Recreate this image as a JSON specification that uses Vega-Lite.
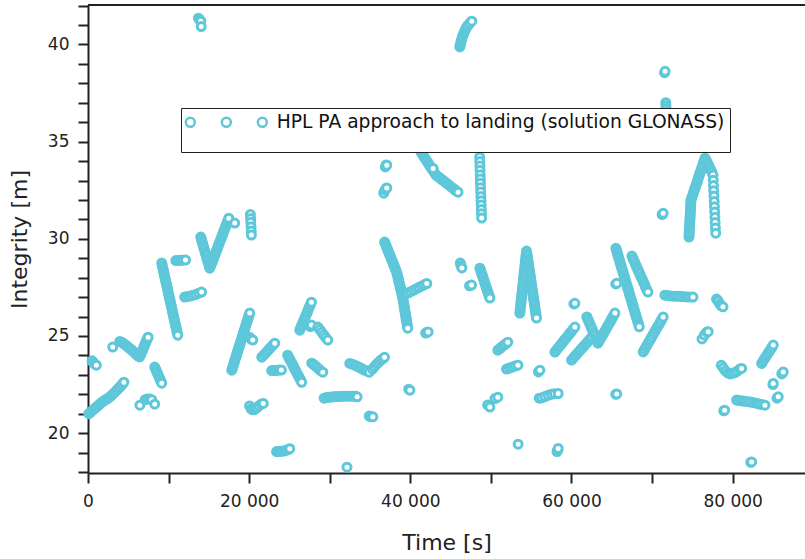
{
"$schema":"https://vega.github.io/schema/vega-lite/v6.json",
"width":717,"height":468,
"autosize":{"type":"none"},
"padding":{"left":88,"top":5,"right":0,"bottom":86},
"config":{"view":{"stroke":null},
"axis":{"grid":false,"domainColor":"#222","domainWidth":2,"tickColor":"#222","tickWidth":2,"labelFont":"DejaVu Sans","labelFontSize":17,"labelColor":"#222","titleFont":"DejaVu Sans","titleFontSize":22,"titleFontWeight":"normal","titleColor":"#222","labelOverlap":false,"labelFlush":false,"labelBound":false}},
"resolve":{"axis":{"x":"independent","y":"independent"}},
"layer":[
{"data":{"values":[{"t":0,"t2":88980,"v":42.03}]},
"mark":{"type":"rule","color":"#222","strokeWidth":2},
"encoding":{"x":{"field":"t","type":"quantitative","axis":null},"x2":{"field":"t2"},"y":{"field":"v","type":"quantitative","axis":null}}},
{"data":{"values":[
{"t":100,"v":21.0},{"t":330,"v":21.08},{"t":560,"v":21.17},{"t":790,"v":21.25},{"t":1020,"v":21.33},{"t":1250,"v":21.41},{"t":1480,"v":21.5},{"t":1710,"v":21.58},{"t":1940,"v":21.66},{"t":2170,"v":21.72},{"t":2400,"v":21.76},{"t":2630,"v":21.84},{"t":2860,"v":21.92},{"t":3090,"v":22.01},{"t":3320,"v":22.1},{"t":3550,"v":22.2},{"t":3780,"v":22.3},{"t":4010,"v":22.4},{"t":4240,"v":22.51},{"t":4450,"v":22.62},
{"t":500,"v":23.72},{"t":650,"v":23.64},{"t":800,"v":23.57},{"t":1040,"v":23.5},
{"t":3070,"v":24.43},
{"t":3940,"v":24.72},{"t":4160,"v":24.68},{"t":4380,"v":24.62},{"t":4600,"v":24.55},{"t":4830,"v":24.48},{"t":5050,"v":24.4},{"t":5280,"v":24.33},{"t":5500,"v":24.25},{"t":5730,"v":24.16},{"t":5950,"v":24.07},{"t":6180,"v":23.98},{"t":6400,"v":23.92},
{"t":6520,"v":24.02},{"t":6630,"v":24.13},{"t":6740,"v":24.24},{"t":6850,"v":24.35},{"t":6960,"v":24.46},{"t":7070,"v":24.57},{"t":7180,"v":24.68},{"t":7300,"v":24.79},{"t":7400,"v":24.88},{"t":7460,"v":24.94},
{"t":8280,"v":23.4},{"t":8400,"v":23.29},{"t":8530,"v":23.17},{"t":8650,"v":23.05},{"t":8770,"v":22.93},{"t":8900,"v":22.81},{"t":9030,"v":22.69},{"t":9150,"v":22.57},
{"t":6440,"v":21.44},{"t":7100,"v":21.72},{"t":7350,"v":21.76},{"t":7650,"v":21.76},{"t":7900,"v":21.72},{"t":8280,"v":21.49},
{"t":9150,"v":28.75},{"t":9220,"v":28.62},{"t":9290,"v":28.49},{"t":9360,"v":28.37},{"t":9420,"v":28.24},{"t":9490,"v":28.11},{"t":9560,"v":27.98},{"t":9630,"v":27.85},{"t":9700,"v":27.72},{"t":9770,"v":27.6},{"t":9840,"v":27.47},{"t":9910,"v":27.34},{"t":9970,"v":27.21},{"t":10040,"v":27.08},{"t":10110,"v":26.95},{"t":10180,"v":26.83},{"t":10250,"v":26.7},{"t":10320,"v":26.57},{"t":10390,"v":26.44},{"t":10460,"v":26.31},{"t":10520,"v":26.18},{"t":10590,"v":26.06},{"t":10660,"v":25.93},{"t":10730,"v":25.8},{"t":10800,"v":25.67},{"t":10870,"v":25.54},{"t":10940,"v":25.42},{"t":11010,"v":25.29},{"t":11070,"v":25.16},{"t":11140,"v":25.04},
{"t":10900,"v":28.88},{"t":11200,"v":28.89},{"t":11500,"v":28.9},{"t":11800,"v":28.9},{"t":12100,"v":28.91},
{"t":12000,"v":27.0},{"t":12350,"v":27.03},{"t":12700,"v":27.06},{"t":13050,"v":27.1},{"t":13400,"v":27.14},{"t":13750,"v":27.2},{"t":14100,"v":27.26},
{"t":13700,"v":41.35},{"t":13800,"v":41.3},{"t":13900,"v":41.25},{"t":14000,"v":41.2},{"t":14050,"v":40.92},
{"t":13990,"v":30.09},{"t":14080,"v":29.97},{"t":14160,"v":29.84},{"t":14250,"v":29.72},{"t":14330,"v":29.6},{"t":14420,"v":29.48},{"t":14510,"v":29.35},{"t":14590,"v":29.23},{"t":14680,"v":29.11},{"t":14760,"v":28.98},{"t":14850,"v":28.86},{"t":14940,"v":28.74},{"t":15020,"v":28.61},{"t":15110,"v":28.49},
{"t":15210,"v":28.6},{"t":15310,"v":28.71},{"t":15420,"v":28.82},{"t":15520,"v":28.93},{"t":15620,"v":29.05},{"t":15730,"v":29.16},{"t":15830,"v":29.27},{"t":15930,"v":29.38},{"t":16040,"v":29.5},{"t":16140,"v":29.61},{"t":16240,"v":29.72},{"t":16350,"v":29.83},{"t":16450,"v":29.94},{"t":16550,"v":30.06},{"t":16660,"v":30.17},{"t":16760,"v":30.28},{"t":16860,"v":30.39},{"t":16970,"v":30.5},{"t":17070,"v":30.62},{"t":17170,"v":30.73},{"t":17280,"v":30.84},{"t":17380,"v":30.95},{"t":17470,"v":31.06},
{"t":18210,"v":30.81},
{"t":20150,"v":31.25},{"t":20180,"v":31.05},{"t":20200,"v":30.85},{"t":20230,"v":30.62},{"t":20260,"v":30.4},{"t":20280,"v":30.19},
{"t":17840,"v":23.24},{"t":17930,"v":23.35},{"t":18010,"v":23.46},{"t":18100,"v":23.58},{"t":18180,"v":23.69},{"t":18270,"v":23.81},{"t":18360,"v":23.92},{"t":18440,"v":24.03},{"t":18530,"v":24.15},{"t":18610,"v":24.26},{"t":18700,"v":24.37},{"t":18790,"v":24.49},{"t":18870,"v":24.6},{"t":18960,"v":24.71},{"t":19040,"v":24.83},{"t":19130,"v":24.94},{"t":19220,"v":25.05},{"t":19300,"v":25.17},{"t":19390,"v":25.28},{"t":19470,"v":25.39},{"t":19560,"v":25.51},{"t":19640,"v":25.62},{"t":19730,"v":25.73},{"t":19820,"v":25.85},{"t":19900,"v":25.96},{"t":19990,"v":26.07},{"t":20070,"v":26.18},
{"t":20100,"v":24.92},{"t":20250,"v":24.84},{"t":20450,"v":24.79},
{"t":20050,"v":21.4},{"t":20250,"v":21.25},{"t":20450,"v":21.2},{"t":20700,"v":21.22},{"t":20950,"v":21.3},{"t":21200,"v":21.4},{"t":21500,"v":21.5},{"t":21750,"v":21.53},
{"t":21570,"v":23.91},{"t":21800,"v":24.01},{"t":22030,"v":24.12},{"t":22260,"v":24.22},{"t":22490,"v":24.32},{"t":22720,"v":24.43},{"t":22950,"v":24.53},{"t":23180,"v":24.63},
{"t":22800,"v":23.22},{"t":23100,"v":23.22},{"t":23400,"v":23.23},{"t":23700,"v":23.25},{"t":24000,"v":23.25},
{"t":24780,"v":24.01},{"t":24930,"v":23.89},{"t":25070,"v":23.78},{"t":25220,"v":23.66},{"t":25360,"v":23.55},{"t":25510,"v":23.43},{"t":25650,"v":23.31},{"t":25800,"v":23.2},{"t":25940,"v":23.08},{"t":26090,"v":22.97},{"t":26230,"v":22.85},{"t":26380,"v":22.74},{"t":26520,"v":22.62},
{"t":23400,"v":19.05},{"t":23700,"v":19.05},{"t":24000,"v":19.07},{"t":24300,"v":19.08},{"t":24600,"v":19.12},{"t":24900,"v":19.17},{"t":25040,"v":19.2},
{"t":26280,"v":25.3},{"t":26410,"v":25.43},{"t":26540,"v":25.56},{"t":26670,"v":25.69},{"t":26800,"v":25.82},{"t":26930,"v":25.95},{"t":27070,"v":26.08},{"t":27200,"v":26.21},{"t":27330,"v":26.35},{"t":27460,"v":26.48},{"t":27600,"v":26.61},{"t":27730,"v":26.74},
{"t":27600,"v":25.48},{"t":27730,"v":25.56},
{"t":27770,"v":23.6},{"t":28050,"v":23.52},{"t":28320,"v":23.42},{"t":28600,"v":23.32},{"t":28870,"v":23.22},{"t":29140,"v":23.14},
{"t":28520,"v":25.46},{"t":28770,"v":25.33},{"t":29010,"v":25.19},{"t":29260,"v":25.05},{"t":29510,"v":24.92},{"t":29760,"v":24.79},
{"t":29300,"v":21.8},{"t":29600,"v":21.83},{"t":29900,"v":21.85},{"t":30200,"v":21.86},{"t":30500,"v":21.87},{"t":30800,"v":21.88},{"t":31100,"v":21.88},{"t":31400,"v":21.89},{"t":31700,"v":21.9},{"t":32000,"v":21.9},{"t":32300,"v":21.9},{"t":32600,"v":21.9},{"t":32900,"v":21.9},{"t":33200,"v":21.9},{"t":33400,"v":21.87},
{"t":34900,"v":20.88},{"t":35100,"v":20.85},{"t":35350,"v":20.84},
{"t":32140,"v":18.25},
{"t":32490,"v":23.59},{"t":32800,"v":23.55},{"t":33100,"v":23.5},{"t":33400,"v":23.44},{"t":33700,"v":23.38},{"t":34000,"v":23.31},{"t":34300,"v":23.25},{"t":34600,"v":23.2},{"t":34900,"v":23.14},
{"t":35300,"v":23.3},{"t":35550,"v":23.42},{"t":35800,"v":23.54},{"t":36050,"v":23.64},{"t":36300,"v":23.74},{"t":36550,"v":23.82},{"t":36800,"v":23.9},
{"t":39800,"v":22.26},{"t":39950,"v":22.21},
{"t":36810,"v":29.83},{"t":36920,"v":29.72},{"t":37020,"v":29.61},{"t":37130,"v":29.5},{"t":37240,"v":29.39},{"t":37340,"v":29.28},{"t":37450,"v":29.17},{"t":37560,"v":29.06},{"t":37660,"v":28.95},{"t":37770,"v":28.84},{"t":37870,"v":28.73},{"t":37980,"v":28.62},{"t":38090,"v":28.51},{"t":38190,"v":28.4},{"t":38300,"v":28.29},
{"t":38360,"v":28.18},{"t":38430,"v":28.08},{"t":38490,"v":27.97},{"t":38550,"v":27.86},{"t":38610,"v":27.75},{"t":38680,"v":27.65},{"t":38740,"v":27.54},{"t":38800,"v":27.43},{"t":38860,"v":27.32},{"t":38930,"v":27.22},{"t":38990,"v":27.11},{"t":39050,"v":27.0},
{"t":39090,"v":26.89},{"t":39130,"v":26.79},{"t":39180,"v":26.68},{"t":39220,"v":26.57},{"t":39260,"v":26.47},{"t":39300,"v":26.36},{"t":39340,"v":26.25},{"t":39390,"v":26.15},{"t":39430,"v":26.04},{"t":39470,"v":25.93},{"t":39510,"v":25.83},{"t":39550,"v":25.72},{"t":39600,"v":25.61},{"t":39640,"v":25.51},{"t":39680,"v":25.4},
{"t":39700,"v":27.21},{"t":40030,"v":27.28},{"t":40370,"v":27.35},{"t":40700,"v":27.42},{"t":41030,"v":27.49},{"t":41370,"v":27.56},{"t":41700,"v":27.63},{"t":42040,"v":27.7},
{"t":41900,"v":25.15},{"t":42050,"v":25.18},{"t":42210,"v":25.21},
{"t":36900,"v":33.7},{"t":37000,"v":33.8},{"t":37080,"v":33.79},
{"t":36700,"v":32.35},{"t":36850,"v":32.5},{"t":37000,"v":32.6},{"t":37080,"v":32.62},
{"t":41320,"v":34.46},{"t":41480,"v":34.36},{"t":41630,"v":34.26},{"t":41790,"v":34.16},{"t":41940,"v":34.07},{"t":42100,"v":33.97},{"t":42260,"v":33.87},{"t":42410,"v":33.77},{"t":42570,"v":33.67},{"t":42720,"v":33.57},{"t":42880,"v":33.48},{"t":43030,"v":33.38},{"t":43190,"v":33.28},
{"t":43420,"v":33.21},{"t":43640,"v":33.14},{"t":43870,"v":33.06},{"t":44100,"v":32.99},{"t":44330,"v":32.92},{"t":44550,"v":32.84},{"t":44780,"v":32.77},{"t":45010,"v":32.69},{"t":45240,"v":32.62},{"t":45460,"v":32.55},{"t":45690,"v":32.47},{"t":45920,"v":32.4},
{"t":42830,"v":33.62},
{"t":46145,"v":39.87},{"t":46200,"v":39.98},{"t":46260,"v":40.09},{"t":46330,"v":40.2},{"t":46410,"v":40.31},{"t":46500,"v":40.43},{"t":46600,"v":40.54},{"t":46710,"v":40.65},{"t":46830,"v":40.76},{"t":46960,"v":40.87},{"t":47140,"v":40.98},{"t":47380,"v":41.09},{"t":47630,"v":41.2},
{"t":48600,"v":34.2},{"t":48620,"v":33.98},{"t":48640,"v":33.75},{"t":48650,"v":33.53},{"t":48670,"v":33.3},{"t":48690,"v":33.08},{"t":48700,"v":32.86},{"t":48720,"v":32.63},{"t":48740,"v":32.41},{"t":48760,"v":32.18},{"t":48770,"v":31.96},{"t":48790,"v":31.74},{"t":48810,"v":31.51},{"t":48830,"v":31.29},{"t":48850,"v":31.07},
{"t":46200,"v":28.75},{"t":46300,"v":28.62},{"t":46400,"v":28.5},
{"t":47350,"v":27.58},{"t":47600,"v":27.62},
{"t":48630,"v":28.49},{"t":48730,"v":28.37},{"t":48820,"v":28.25},{"t":48920,"v":28.14},{"t":49010,"v":28.02},{"t":49110,"v":27.9},{"t":49200,"v":27.78},{"t":49300,"v":27.66},{"t":49390,"v":27.54},{"t":49490,"v":27.42},{"t":49580,"v":27.3},{"t":49680,"v":27.19},{"t":49770,"v":27.07},{"t":49870,"v":26.95},
{"t":50860,"v":24.27},{"t":51110,"v":24.35},{"t":51350,"v":24.44},{"t":51600,"v":24.52},{"t":51850,"v":24.6},{"t":52100,"v":24.68},
{"t":51940,"v":23.3},{"t":52300,"v":23.35},{"t":52650,"v":23.4},{"t":53000,"v":23.45},{"t":53350,"v":23.5},
{"t":49600,"v":21.45},{"t":49870,"v":21.34},{"t":50500,"v":21.78},{"t":50860,"v":21.85},
{"t":53380,"v":19.43},
{"t":53590,"v":26.18},{"t":53620,"v":26.31},{"t":53660,"v":26.45},{"t":53690,"v":26.58},{"t":53730,"v":26.71},{"t":53760,"v":26.84},{"t":53800,"v":26.98},{"t":53830,"v":27.11},{"t":53870,"v":27.24},{"t":53900,"v":27.38},{"t":53940,"v":27.51},{"t":53970,"v":27.64},{"t":54010,"v":27.77},{"t":54040,"v":27.91},{"t":54070,"v":28.04},{"t":54110,"v":28.17},{"t":54140,"v":28.31},{"t":54180,"v":28.44},{"t":54210,"v":28.57},{"t":54250,"v":28.7},{"t":54280,"v":28.84},{"t":54320,"v":28.97},{"t":54350,"v":29.1},{"t":54390,"v":29.24},{"t":54420,"v":29.37},
{"t":54470,"v":29.24},{"t":54510,"v":29.11},{"t":54560,"v":28.98},{"t":54610,"v":28.85},{"t":54650,"v":28.72},{"t":54700,"v":28.6},{"t":54740,"v":28.47},{"t":54790,"v":28.34},{"t":54840,"v":28.21},{"t":54880,"v":28.08},{"t":54930,"v":27.96},{"t":54970,"v":27.83},{"t":55020,"v":27.7},{"t":55070,"v":27.57},{"t":55110,"v":27.44},{"t":55160,"v":27.32},{"t":55200,"v":27.19},{"t":55250,"v":27.06},{"t":55300,"v":26.93},{"t":55340,"v":26.8},{"t":55390,"v":26.68},{"t":55430,"v":26.55},{"t":55480,"v":26.42},{"t":55530,"v":26.29},{"t":55570,"v":26.16},{"t":55620,"v":26.04},{"t":55660,"v":25.92},
{"t":55900,"v":23.15},{"t":56080,"v":23.24},
{"t":56000,"v":21.8},{"t":56300,"v":21.82},{"t":56700,"v":21.88},{"t":57100,"v":21.95},{"t":57500,"v":22.0},{"t":57900,"v":22.03},{"t":58350,"v":22.04},
{"t":58200,"v":19.05},{"t":58300,"v":19.12},{"t":58350,"v":19.21},
{"t":57940,"v":24.17},{"t":58150,"v":24.28},{"t":58350,"v":24.39},{"t":58560,"v":24.49},{"t":58770,"v":24.6},{"t":58970,"v":24.71},{"t":59180,"v":24.82},{"t":59390,"v":24.92},{"t":59590,"v":25.03},{"t":59800,"v":25.14},{"t":60010,"v":25.24},{"t":60210,"v":25.35},{"t":60420,"v":25.46},
{"t":60300,"v":26.65},{"t":60420,"v":26.68},
{"t":60010,"v":23.76},{"t":60220,"v":23.86},{"t":60430,"v":23.96},{"t":60640,"v":24.06},{"t":60850,"v":24.16},{"t":61060,"v":24.26},{"t":61270,"v":24.35},{"t":61480,"v":24.45},{"t":61690,"v":24.55},{"t":61910,"v":24.65},{"t":62120,"v":24.75},{"t":62330,"v":24.85},{"t":62540,"v":24.94},
{"t":61910,"v":25.98},{"t":62050,"v":25.85},{"t":62180,"v":25.71},{"t":62320,"v":25.58},{"t":62460,"v":25.44},{"t":62590,"v":25.31},{"t":62730,"v":25.17},{"t":62870,"v":25.04},{"t":63010,"v":24.9},{"t":63140,"v":24.77},{"t":63280,"v":24.63},
{"t":63430,"v":24.74},{"t":63590,"v":24.85},{"t":63740,"v":24.96},{"t":63890,"v":25.07},{"t":64040,"v":25.18},{"t":64200,"v":25.29},{"t":64350,"v":25.4},{"t":64500,"v":25.51},{"t":64650,"v":25.62},{"t":64800,"v":25.73},{"t":64960,"v":25.85},{"t":65110,"v":25.96},{"t":65260,"v":26.07},{"t":65390,"v":26.18},
{"t":65510,"v":29.51},{"t":65600,"v":29.39},{"t":65690,"v":29.27},{"t":65770,"v":29.14},{"t":65860,"v":29.02},{"t":65950,"v":28.9},{"t":66040,"v":28.78},{"t":66130,"v":28.65},{"t":66210,"v":28.53},{"t":66300,"v":28.41},{"t":66390,"v":28.29},{"t":66480,"v":28.16},{"t":66570,"v":28.04},{"t":66650,"v":27.92},{"t":66740,"v":27.8},{"t":66830,"v":27.67},{"t":66920,"v":27.55},{"t":67010,"v":27.43},{"t":67090,"v":27.31},{"t":67180,"v":27.18},{"t":67270,"v":27.06},{"t":67360,"v":26.94},{"t":67450,"v":26.82},{"t":67530,"v":26.69},{"t":67620,"v":26.57},{"t":67710,"v":26.45},{"t":67800,"v":26.33},{"t":67890,"v":26.2},{"t":67970,"v":26.08},{"t":68060,"v":25.96},{"t":68150,"v":25.84},{"t":68240,"v":25.71},{"t":68330,"v":25.59},{"t":68410,"v":25.47},
{"t":67500,"v":29.11},{"t":67640,"v":28.98},{"t":67780,"v":28.85},{"t":67920,"v":28.71},{"t":68060,"v":28.58},{"t":68200,"v":28.45},{"t":68340,"v":28.32},{"t":68480,"v":28.19},{"t":68620,"v":28.05},{"t":68770,"v":27.92},{"t":68910,"v":27.79},{"t":69050,"v":27.66},{"t":69190,"v":27.52},{"t":69330,"v":27.39},{"t":69490,"v":27.26},
{"t":65500,"v":27.68},{"t":65620,"v":27.71},
{"t":65500,"v":22.0},{"t":65620,"v":22.02},
{"t":68900,"v":24.18},{"t":69080,"v":24.31},{"t":69250,"v":24.44},{"t":69430,"v":24.57},{"t":69610,"v":24.7},{"t":69790,"v":24.82},{"t":69960,"v":24.95},{"t":70140,"v":25.08},{"t":70320,"v":25.21},{"t":70500,"v":25.34},{"t":70670,"v":25.47},{"t":70850,"v":25.59},{"t":71030,"v":25.72},{"t":71200,"v":25.85},{"t":71380,"v":25.98},
{"t":71250,"v":31.25},{"t":71380,"v":31.31},
{"t":71550,"v":38.55},{"t":71620,"v":38.62},
{"t":71700,"v":37.0},{"t":71720,"v":36.85},{"t":71740,"v":36.7},{"t":71760,"v":36.55},
{"t":71590,"v":27.1},{"t":71940,"v":27.08},{"t":72290,"v":27.06},{"t":72640,"v":27.05},{"t":72990,"v":27.05},{"t":73340,"v":27.04},{"t":73690,"v":27.03},{"t":74040,"v":27.02},{"t":74380,"v":27.01},{"t":74730,"v":27.0},{"t":75080,"v":27.0},
{"t":74580,"v":30.09},{"t":74600,"v":30.22},{"t":74610,"v":30.34},{"t":74630,"v":30.47},{"t":74650,"v":30.6},{"t":74660,"v":30.72},{"t":74680,"v":30.85},{"t":74700,"v":30.98},{"t":74710,"v":31.1},{"t":74730,"v":31.23},{"t":74750,"v":31.36},{"t":74760,"v":31.48},{"t":74780,"v":31.61},{"t":74800,"v":31.74},{"t":74810,"v":31.86},{"t":74830,"v":31.99},
{"t":74930,"v":32.12},{"t":75040,"v":32.24},{"t":75140,"v":32.37},{"t":75240,"v":32.5},{"t":75340,"v":32.62},{"t":75450,"v":32.75},{"t":75550,"v":32.88},{"t":75650,"v":33.0},{"t":75750,"v":33.13},{"t":75860,"v":33.26},{"t":75960,"v":33.39},{"t":76060,"v":33.51},{"t":76160,"v":33.64},{"t":76270,"v":33.77},{"t":76370,"v":33.89},{"t":76470,"v":34.02},{"t":76570,"v":34.15},
{"t":76700,"v":34.05},{"t":76850,"v":33.92},{"t":77000,"v":33.8},{"t":77150,"v":33.68},{"t":77300,"v":33.55},{"t":77430,"v":33.42},
{"t":77560,"v":33.28},{"t":77590,"v":33.01},{"t":77620,"v":32.74},{"t":77650,"v":32.47},{"t":77680,"v":32.2},{"t":77710,"v":31.92},{"t":77740,"v":31.65},{"t":77770,"v":31.38},{"t":77800,"v":31.11},{"t":77830,"v":30.84},{"t":77860,"v":30.56},{"t":77900,"v":30.29},
{"t":76200,"v":24.85},{"t":76500,"v":25.05},{"t":76800,"v":25.2},{"t":76970,"v":25.22},
{"t":78000,"v":26.9},{"t":78200,"v":26.8},{"t":78400,"v":26.65},{"t":78600,"v":26.55},{"t":78800,"v":26.5},
{"t":78600,"v":23.5},{"t":78850,"v":23.35},{"t":79100,"v":23.2},{"t":79400,"v":23.1},{"t":79700,"v":23.05},{"t":80000,"v":23.08},{"t":80300,"v":23.12},{"t":80600,"v":23.2},{"t":80900,"v":23.3},{"t":81120,"v":23.33},
{"t":78900,"v":21.15},{"t":79010,"v":21.18},
{"t":80490,"v":21.7},{"t":80840,"v":21.68},{"t":81200,"v":21.66},{"t":81550,"v":21.64},{"t":81900,"v":21.62},{"t":82250,"v":21.6},{"t":82600,"v":21.57},{"t":82950,"v":21.54},{"t":83300,"v":21.5},{"t":83650,"v":21.47},{"t":84010,"v":21.44},
{"t":82250,"v":18.5},{"t":82360,"v":18.52},
{"t":83600,"v":23.59},{"t":83780,"v":23.71},{"t":83960,"v":23.83},{"t":84140,"v":23.94},{"t":84320,"v":24.06},{"t":84500,"v":24.18},{"t":84680,"v":24.29},{"t":84860,"v":24.41},{"t":85040,"v":24.53},
{"t":85000,"v":22.5},{"t":85040,"v":22.56},{"t":85500,"v":21.8},{"t":85660,"v":21.87},{"t":86100,"v":23.05},{"t":86280,"v":23.15}
]},
"mark":{"type":"point","shape":"circle","filled":true,"fill":"white","size":64,"strokeWidth":3,"opacity":1},
"encoding":{
"x":{"field":"t","type":"quantitative","scale":{"domain":[0,88980],"nice":false,"zero":false},
"axis":{"title":"Time [s]","orient":"bottom","values":[0,10000,20000,30000,40000,50000,60000,70000,80000],"labelExpr":"datum.value % 20000 === 0 ? replace(format(datum.value, ','), ',', ' ') : ''","tickSize":10,"labelPadding":10,"titlePadding":23,
"encode":{"ticks":{"update":{"y2":{"signal":"datum.value % 20000 === 0 ? 10 : 6"}}}}}},
"y":{"field":"v","type":"quantitative","scale":{"domain":[17.95,42.03],"nice":false,"zero":false},
"axis":{"title":"Integrity [m]","orient":"left","values":[18,19,20,21,22,23,24,25,26,27,28,29,30,31,32,33,34,35,36,37,38,39,40,41,42],"labelExpr":"datum.value % 5 === 0 ? datum.label : ''","tickSize":10,"labelPadding":9,"titlePadding":16,
"encode":{"ticks":{"update":{"x2":{"signal":"datum.value % 5 === 0 ? -10 : -6"}}}}}},
"stroke":{"datum":"HPL PA approach to landing (solution GLONASS)","type":"nominal","scale":{"range":["#5ec7da"]},
"legend":{"title":null,"orient":"none","legendX":93,"legendY":103,"padding":5,"strokeColor":"#222","fillColor":"white","symbolType":"M -13.5 0 A 0.9 0.9 0 1 1 -15.3 0 A 0.9 0.9 0 1 1 -13.5 0 Z M -6.3 0 A 0.9 0.9 0 1 1 -8.1 0 A 0.9 0.9 0 1 1 -6.3 0 Z M 0.9 0 A 0.9 0.9 0 1 1 -0.9 0 A 0.9 0.9 0 1 1 0.9 0 Z M 0 -3.8 M 0 3.8","symbolSize":100,"symbolOffset":67,"symbolStrokeWidth":2.5,"symbolFillColor":"white","labelFont":"DejaVu Sans","labelFontSize":18.7,"labelColor":"#111","labelOffset":5,"labelLimit":0,
"encode":{"legend":{"update":{"strokeWidth":{"value":2}}}}}}
}}
]
}
